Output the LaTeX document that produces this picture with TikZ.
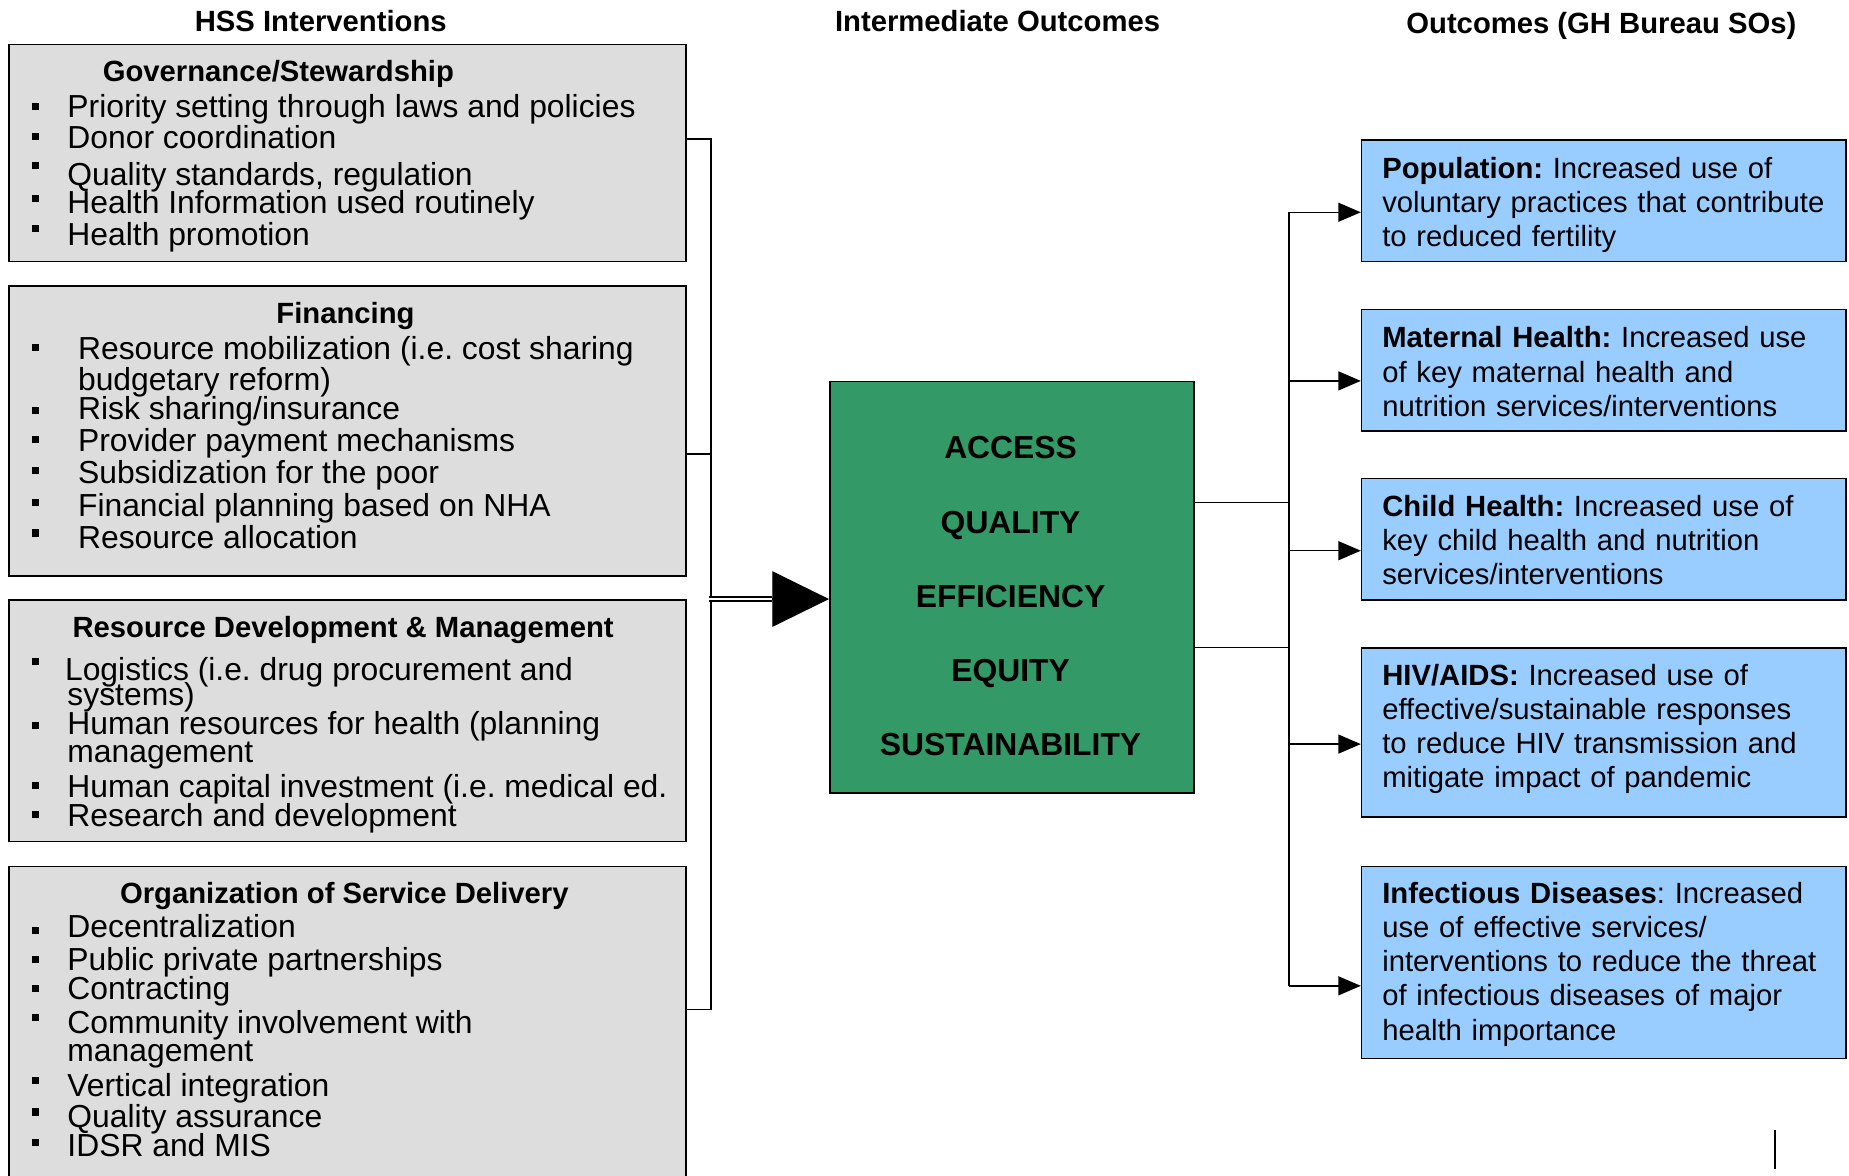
\documentclass[tikz,border=0pt]{standalone}
\usepackage{fontspec}
\setmainfont{Liberation Sans}
\usetikzlibrary{arrows.meta}
\definecolor{hssgray}{HTML}{DDDDDD}
\definecolor{iogreen}{HTML}{339966}
\definecolor{soblue}{HTML}{99CCFF}
\frenchspacing

\begin{document}
\begin{tikzpicture}[x=1pt,y=-1pt,
    hssbox/.style={draw,line width=1.3pt,fill=hssgray,anchor=north west,minimum width=574pt,inner sep=0pt},
    sobox/.style={draw,line width=1.3pt,fill=soblue,anchor=north west,minimum width=411pt,inner sep=0pt},
    colhead/.style={font=\fontsize{24.8}{25}\selectfont\bfseries,anchor=base,inner sep=0pt},
    itm/.style={font=\fontsize{27}{27}\selectfont,anchor=base west,inner sep=0pt},
    sotext/.style={font=\fontsize{24.8}{29}\selectfont,anchor=base west,inner sep=0pt,text width=400pt,align=left},
    ioword/.style={font=\fontsize{27}{27}\selectfont\bfseries,anchor=base,inner sep=0pt},
    conn/.style={line width=1.3pt},
    soarrow/.style={line width=1.3pt,-{Triangle[length=19pt,width=16pt]}}]
    \useasboundingbox (0,0) rectangle (1568,997);
    \clip (0,0) rectangle (1568,997);
    % column heads
    \node[colhead] (hhss) at (272,27) {HSS Interventions};
    \node[colhead] (hio)  at (846,27) {Intermediate Outcomes};
    \node[colhead] (hso)  at (1358,28) {Outcomes (GH Bureau SOs)};
    % HSS intervention boxes
    \node[hssbox,minimum height=184pt] (gov) at (7,37) {};
    \node[hssbox,minimum height=246pt] (fin) at (7,242) {};
    \node[hssbox,minimum height=205pt] (rdm) at (7,508) {};
    \node[hssbox,minimum height=280pt] (osd) at (7,734) {};
    \node[colhead,anchor=base west] (tgov) at (87,69) {Governance/Stewardship};
    \node[colhead] (tfin) at (293,274) {Financing};
    \node[colhead] (trdm) at (291,541) {Resource Development \& Management};
    \node[colhead] (tosd) at (292,766) {Organization of Service Delivery};
    \foreach \y/\t in {100/Priority setting through laws and policies,126/Donor coordination,
        157/{Quality standards, regulation},181/Health Information used routinely,208/Health promotion}
        \node[itm] (g\y) at (57,\y) {\t};
    \foreach \y/\t in {305/Resource mobilization (i.e. cost sharing,331/budgetary reform),
        356/{Risk sharing/insurance},383/Provider payment mechanisms,410/Subsidization for the poor,
        438/Financial planning based on NHA,465/Resource allocation}
        \node[itm] (f\y) at (66,\y) {\t};
    \node[itm] (r577) at (55,577) {Logistics (i.e. drug procurement and};
    \foreach \y/\t in {598/systems),623/Human resources for health (planning,647/management,
        676/Human capital investment (i.e. medical ed.,701/Research and development}
        \node[itm] (r\y) at (57,\y) {\t};
    \foreach \y/\t in {795/Decentralization,823/Public private partnerships,848/Contracting,
        876/Community involvement with,900/management,930/Vertical integration,
        956/Quality assurance,981/IDSR and MIS}
        \node[itm] (o\y) at (57,\y) {\t};
    \foreach \y in {90,116,140,168,194,295,348,373,399,426,452,561,615,666,691,789,814,838,863,916,943,969}
        \fill (27,{\y-3}) rectangle (33,{\y+3});
    % intermediate outcomes
    \node[draw,line width=1.3pt,fill=iogreen,anchor=north west,minimum width=309pt,minimum height=349pt,inner sep=0pt] (core) at (703,323) {};
    \foreach \y/\w in {389/ACCESS,452/QUALITY,515/EFFICIENCY,578/EQUITY,641/SUSTAINABILITY}
        \node[ioword] (w\y) at (857,\y) {\w};
    % bracket and big arrow
    \coordinate (ltop) at (603,118);
    \coordinate (lmid) at (603,385);
    \coordinate (lbot) at (603,856);
    \coordinate (lout) at (601,508);
    \draw[conn] (gov.east |- ltop) -| (lbot) -- (osd.east |- lbot);
    \draw[conn] (fin.east |- lmid) -- (lmid);
    \draw[line width=1.1pt,double distance=2.2pt] (lout) -- ++(54,0) coordinate (ahead);
    \draw[line width=1pt,-{Triangle[length=48pt,width=47pt]}] (ahead) -- (core.west |- ahead);
    % outcome boxes
    \node[sobox,minimum height=103pt] (pop) at (1154,118) {};
    \node[sobox,minimum height=103pt] (mat) at (1154,262) {};
    \node[sobox,minimum height=103pt] (chd) at (1154,405) {};
    \node[sobox,minimum height=143pt] (hiv) at (1154,549) {};
    \node[sobox,minimum height=163pt] (inf) at (1154,734) {};
    \node[sotext] (xpop) at (1172,151) {\textbf{Population:} Increased use of\\voluntary practices that contribute\\to reduced fertility};
    \node[sotext] (xmat) at (1172,295) {\textbf{Maternal Health:} Increased use\\of key maternal health and\\nutrition services/interventions};
    \node[sotext] (xchd) at (1172,438) {\textbf{Child Health:} Increased use of\\key child health and nutrition\\services/interventions};
    \node[sotext] (xhiv) at (1172,581) {\textbf{HIV/AIDS:} Increased use of\\effective/sustainable responses\\to reduce HIV transmission and\\mitigate impact of pandemic};
    \node[sotext] (xinf) at (1172,766) {\textbf{Infectious Diseases}: Increased\\use of effective services/\\interventions to reduce the threat\\of infectious diseases of major\\health importance};
    % fan out to outcomes
    \coordinate (ra) at (1093,426);
    \coordinate (rb) at (1093,549);
    \draw[conn] (core.east |- ra) -- (ra);
    \draw[conn] (core.east |- rb) -- (rb);
    \foreach \n/\y in {pop/180,mat/323,chd/467,hiv/631,inf/836}
        \coordinate (r\n) at (1093,\y);
    \draw[conn] (rpop) -- (rinf);
    \foreach \n in {pop,mat,chd,hiv,inf}
        \draw[soarrow] (r\n) -- (\n.west |- r\n);
    \draw[line width=1.3pt] (1505,958) -- (1505,991);
\end{tikzpicture}
\end{document}
